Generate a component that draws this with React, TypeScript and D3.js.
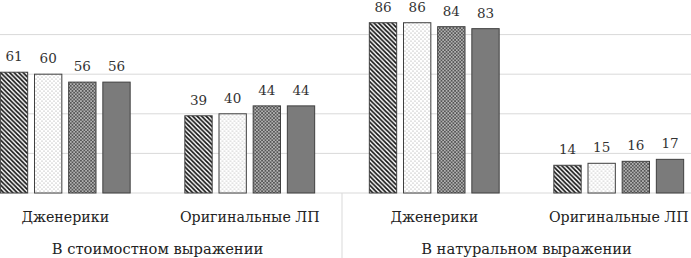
import React from "react";
import * as d3 from "d3";

const groups = ["В стоимостном выражении", "В натуральном выражении"];
const categories = ["Дженерики", "Оригинальные ЛП", "Дженерики ", "Оригинальные ЛП "];
const series = ["s1", "s2", "s3", "s4"];
const values: number[][] = [
  [61, 60, 56, 56],
  [39, 40, 44, 44],
  [86, 86, 84, 83],
  [14, 15, 16, 17],
];
const gridTicks = [0, 20, 40, 60, 80, 100];

const W = 691;
const H = 258;
const FONT = "DejaVu Serif";

export default function App() {
  const x0 = d3.scaleBand<string>().domain(categories).range([-27, 711]).padding(0);
  const x1 = d3
    .scaleBand<string>()
    .domain(series)
    .range([0, x0.bandwidth()])
    .paddingInner(0.2)
    .paddingOuter(0.8);
  const y = d3.scaleLinear().domain([0, 100]).range([193, -5]);

  const fills = ["url(#pStripe)", "url(#pLight)", "url(#pDense)", "#7b7b7b"];

  const groupCenters = groups.map((g, i) => {
    const a = x0(categories[i * 2])! + x0.bandwidth() / 2;
    const b = x0(categories[i * 2 + 1])! + x0.bandwidth() / 2;
    return (a + b) / 2;
  });
  const sepX = x0(categories[2])!;

  return (
    <svg
      width={W}
      height={H}
      style={{ position: "absolute", left: 0, top: 0, background: "#fff" }}
    >
      <defs>
        <pattern id="pStripe" width={4.5} height={4.5} patternUnits="userSpaceOnUse">
          <rect width={4.5} height={4.5} fill="#fff" />
          <path
            d="M-1,-1 L5.5,5.5 M-1,3.5 L1,5.5 M3.5,-1 L5.5,1"
            stroke="#111"
            strokeWidth={1.7}
          />
        </pattern>
        <pattern id="pLight" width={4} height={4} patternUnits="userSpaceOnUse">
          <rect width={4} height={4} fill="#fff" />
          <circle cx={1} cy={1} r={0.6} fill="#999" />
          <circle cx={3} cy={3} r={0.6} fill="#999" />
        </pattern>
        <pattern id="pDense" width={3.4} height={3.4} patternUnits="userSpaceOnUse">
          <rect width={3.4} height={3.4} fill="#555" />
          <circle cx={0.85} cy={0.85} r={0.8} fill="#ddd" />
          <circle cx={2.55} cy={2.55} r={0.8} fill="#ddd" />
        </pattern>
      </defs>

      {gridTicks.map((t) => (
        <line key={t} x1={0} x2={W} y1={y(t)} y2={y(t)} stroke="#d9d9d9" strokeWidth={1} />
      ))}
      <line x1={sepX} x2={sepX} y1={y(0)} y2={H} stroke="#d9d9d9" strokeWidth={1} />

      {categories.map((c, ci) => (
        <g key={c} transform={`translate(${x0(c)},0)`}>
          {series.map((s, si) => {
            const v = values[ci][si];
            const bx = x1(s)!;
            return (
              <g key={s}>
                <rect
                  x={bx}
                  y={y(v)}
                  width={x1.bandwidth()}
                  height={y(0) - y(v)}
                  fill={fills[si]}
                  stroke="#404040"
                  strokeWidth={1}
                />
                <text
                  x={bx + x1.bandwidth() / 2}
                  y={y(v) - 11}
                  textAnchor="middle"
                  fontFamily={FONT}
                  fontSize={13.5}
                  fill="#333"
                >
                  {v}
                </text>
              </g>
            );
          })}
          <text
            x={x0.bandwidth() / 2}
            y={222}
            textAnchor="middle"
            fontFamily={FONT}
            fontSize={14.2}
            fill="#222"
          >
            {c.trim()}
          </text>
        </g>
      ))}

      {groups.map((g, i) => (
        <text
          key={g}
          x={groupCenters[i]}
          y={254}
          textAnchor="middle"
          fontFamily={FONT}
          fontSize={14.7}
          fill="#222"
        >
          {g}
        </text>
      ))}
    </svg>
  );
}
